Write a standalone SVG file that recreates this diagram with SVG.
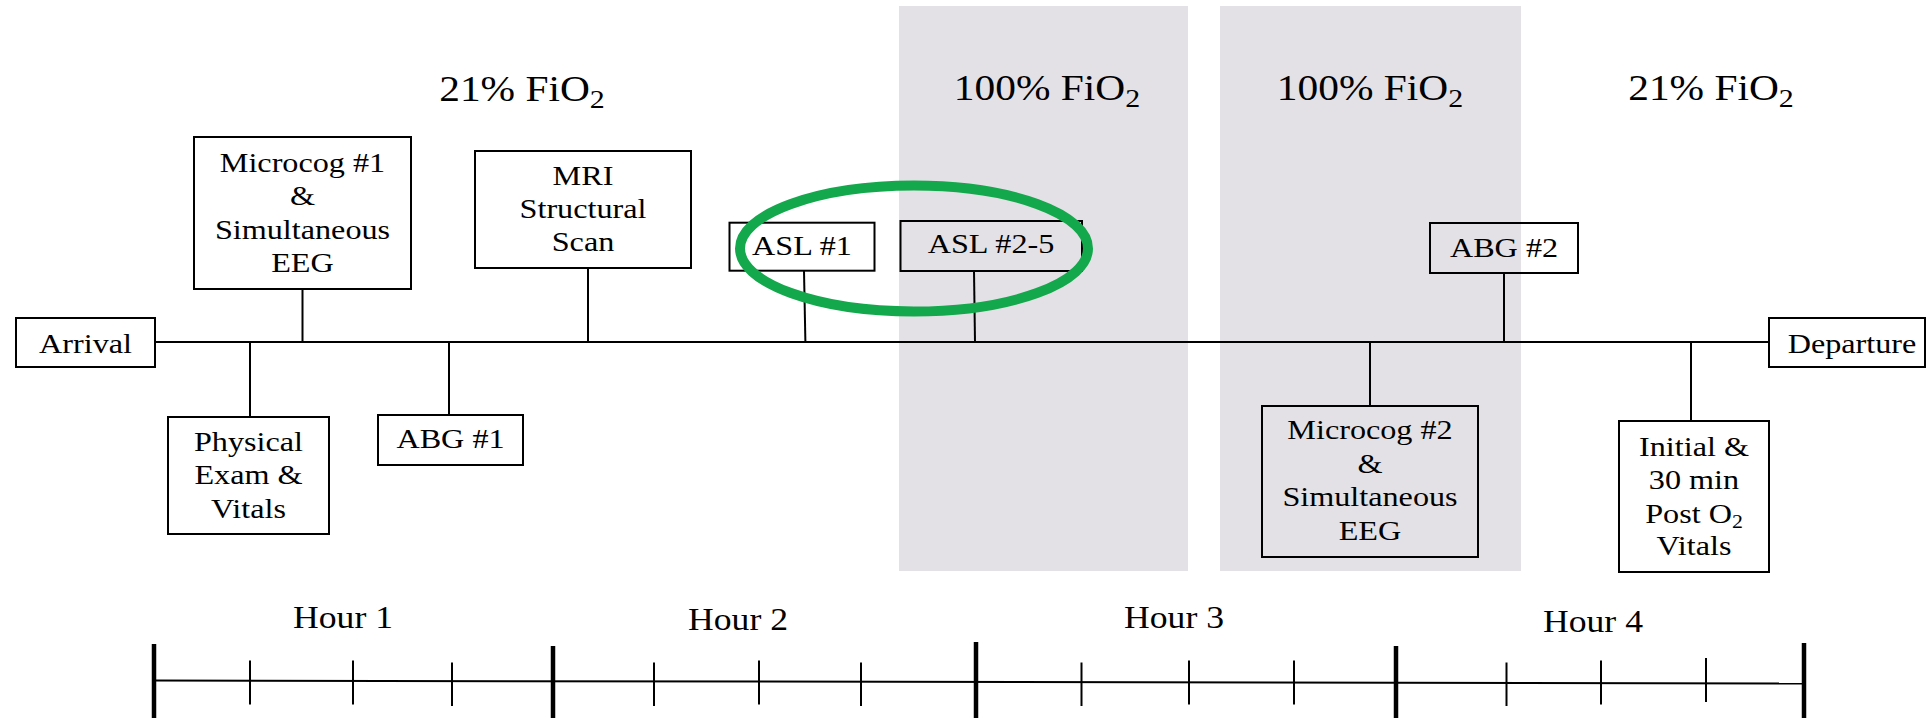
<svg xmlns="http://www.w3.org/2000/svg" width="1931" height="718" viewBox="0 0 1931 718">
<style>
.band{fill:#e4e1e6}
.box{fill:none;stroke:#000;stroke-width:2}
.t{font-family:"Liberation Serif","Times New Roman",serif;font-size:28px;fill:#000;text-anchor:middle;transform:scaleX(1.15);transform-box:fill-box;transform-origin:center}
.h{font-size:36px}
.hr{font-size:31px}
.ln{stroke:#000;stroke-width:2;fill:none}
.maj{stroke:#000;stroke-width:4.5}
.min{stroke:#000;stroke-width:2}
.ring{fill:none;stroke:#14a84c;stroke-width:10}
</style>
<rect width="1931" height="718" fill="#fff"/>
<g id="bands">
<rect class="band" x="899" y="6" width="289" height="565"/>
<rect class="band" x="1220" y="6" width="301" height="565"/>
</g>
<g id="headers">
<text class="t h" x="522" y="101">21% FiO<tspan dy="7" font-size="26">2</tspan></text>
<text class="t h" x="1047" y="100">100% FiO<tspan dy="7" font-size="26">2</tspan></text>
<text class="t h" x="1370" y="100">100% FiO<tspan dy="7" font-size="26">2</tspan></text>
<text class="t h" x="1711" y="100">21% FiO<tspan dy="7" font-size="26">2</tspan></text>
</g>
<g id="connectors">
<line class="ln" x1="155" y1="342" x2="1769" y2="342"/>
<line class="ln" x1="302.5" y1="289" x2="302.5" y2="342"/>
<line class="ln" x1="250" y1="342" x2="250" y2="417"/>
<line class="ln" x1="449" y1="342" x2="449" y2="415"/>
<line class="ln" x1="588" y1="268" x2="588" y2="342"/>
<line class="ln" x1="804" y1="271" x2="805.4" y2="342"/>
<line class="ln" x1="974" y1="271" x2="975" y2="342"/>
<line class="ln" x1="1504" y1="273" x2="1504" y2="342"/>
<line class="ln" x1="1370" y1="342" x2="1370" y2="406"/>
<line class="ln" x1="1691" y1="342" x2="1691" y2="421"/>
</g>
<g id="n-arrival">
<rect class="box" x="16" y="318" width="139" height="49"/>
<text class="t" x="85.5" y="353">Arrival</text>
</g>
<g id="n-departure">
<rect class="box" x="1769" y="318" width="156" height="49"/>
<text class="t" x="1852" y="353">Departure</text>
</g>
<g id="n-microcog1">
<rect class="box" x="194" y="137" width="217" height="152"/>
<text class="t" x="302.5" y="172">Microcog #1</text>
<text class="t" x="302.5" y="205.5">&amp;</text>
<text class="t" x="302.5" y="239">Simultaneous</text>
<text class="t" x="302.5" y="272">EEG</text>
</g>
<g id="n-physical">
<rect class="box" x="168" y="417" width="161" height="117"/>
<text class="t" x="248.5" y="451">Physical</text>
<text class="t" x="248.5" y="484.5">Exam &amp;</text>
<text class="t" x="248.5" y="518">Vitals</text>
</g>
<g id="n-abg1">
<rect class="box" x="378" y="415" width="145" height="50"/>
<text class="t" x="450.5" y="448">ABG #1</text>
</g>
<g id="n-mri">
<rect class="box" x="475" y="151" width="216" height="117"/>
<text class="t" x="583" y="185.5">MRI</text>
<text class="t" x="583" y="218.5">Structural</text>
<text class="t" x="583" y="251.5">Scan</text>
</g>
<g id="n-asl1">
<rect class="box" x="729.5" y="222.7" width="145" height="48"/>
<text class="t" x="802" y="255">ASL #1</text>
</g>
<g id="n-asl25">
<rect class="box" x="900.5" y="221" width="181.5" height="50"/>
<text class="t" x="991" y="253.5">ASL #2-5</text>
</g>
<g id="n-abg2">
<rect class="box" x="1430" y="223" width="148" height="50"/>
<text class="t" x="1504" y="257">ABG #2</text>
</g>
<g id="n-microcog2">
<rect class="box" x="1262" y="406" width="216" height="151"/>
<text class="t" x="1370" y="439.5">Microcog #2</text>
<text class="t" x="1370" y="473">&amp;</text>
<text class="t" x="1370" y="506.5">Simultaneous</text>
<text class="t" x="1370" y="540">EEG</text>
</g>
<g id="n-initial">
<rect class="box" x="1619" y="421" width="150" height="151"/>
<text class="t" x="1694" y="456">Initial &amp;</text>
<text class="t" x="1694" y="489.5">30 min</text>
<text class="t" x="1694" y="523">Post O<tspan dy="5" font-size="19">2</tspan></text>
<text class="t" x="1694" y="555.5">Vitals</text>
</g>
<g id="hours">
<text class="t hr" x="343" y="628">Hour 1</text>
<text class="t hr" x="738" y="630">Hour 2</text>
<text class="t hr" x="1174" y="628">Hour 3</text>
<text class="t hr" x="1593" y="632">Hour 4</text>
</g>
<g id="scale">
<line class="ln" x1="154" y1="680.5" x2="1804" y2="683.5" stroke-width="2.5"/>
<line class="maj" x1="154" y1="644" x2="154" y2="718"/>
<line class="maj" x1="553" y1="646" x2="553" y2="718"/>
<line class="maj" x1="976" y1="642" x2="976" y2="718"/>
<line class="maj" x1="1396" y1="646" x2="1396" y2="718"/>
<line class="maj" x1="1804" y1="643" x2="1804" y2="718"/>
<line class="min" x1="250" y1="660.5" x2="250" y2="704.5"/>
<line class="min" x1="353" y1="660.5" x2="353" y2="704.5"/>
<line class="min" x1="452" y1="662.5" x2="452" y2="706"/>
<line class="min" x1="654" y1="662.5" x2="654" y2="706"/>
<line class="min" x1="759" y1="660.5" x2="759" y2="704.5"/>
<line class="min" x1="861" y1="662.5" x2="861" y2="706"/>
<line class="min" x1="1081.5" y1="662.5" x2="1081.5" y2="706"/>
<line class="min" x1="1189" y1="660.5" x2="1189" y2="704.5"/>
<line class="min" x1="1294" y1="660.5" x2="1294" y2="704.5"/>
<line class="min" x1="1506.5" y1="662.5" x2="1506.5" y2="706"/>
<line class="min" x1="1601" y1="660.5" x2="1601" y2="704.5"/>
<line class="min" x1="1706" y1="658" x2="1706" y2="702"/>
</g>
<g id="highlight">
<ellipse class="ring" cx="914" cy="248.5" rx="174" ry="63"/>
</g>
</svg>
